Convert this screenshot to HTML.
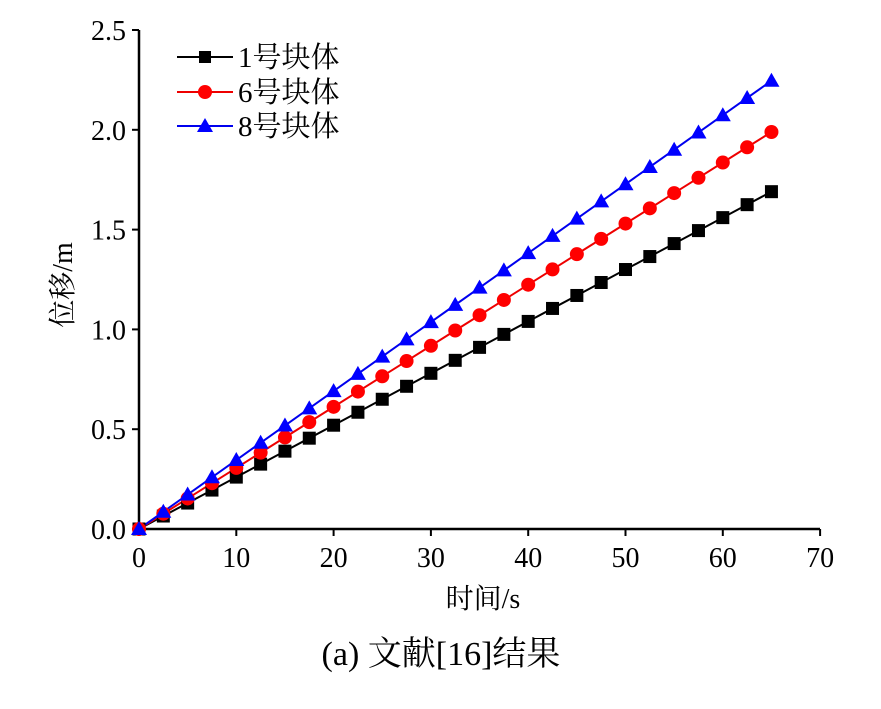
<!DOCTYPE html>
<html><head><meta charset="utf-8"><style>
html,body{margin:0;padding:0;background:#fff;}
svg text{font-family:"Liberation Serif","Noto Serif CJK SC",serif;fill:#000;}
</style></head><body>
<svg id="s" width="881" height="704" xmlns="http://www.w3.org/2000/svg">
<g stroke="#000" stroke-width="2.5" fill="none">
<line x1="139" y1="30" x2="139" y2="529"/>
<line x1="139" y1="529" x2="820" y2="529"/>
</g>
<g id="ticks" stroke="#000" stroke-width="2"></g>
<g id="labels" font-size="28"></g>
<g id="series"></g>
<g stroke-width="2">
<line x1="177" y1="57" x2="233" y2="57" stroke="#000"/><rect x="199" y="51" width="12" height="12" fill="#000"/>
<line x1="177" y1="92" x2="233" y2="92" stroke="#e00"/><circle cx="205" cy="92" r="7" fill="#f00"/>
<line x1="177" y1="126" x2="233" y2="126" stroke="#00e"/><polygon points="205,118 213,132 197,132" fill="#00f"/>
</g>
<text x="238" y="67" font-size="29">1号块体</text>
<text x="238" y="102" font-size="29">6号块体</text>
<text x="238" y="136" font-size="29">8号块体</text>
<text x="483" y="608" font-size="28" text-anchor="middle">时间/s</text>
<text transform="translate(72,285) rotate(-90)" font-size="28" text-anchor="middle">位移/m</text>
<text x="441" y="665" font-size="34" text-anchor="middle">(a)  文献[16]结果</text>
</svg>
<script>
var NS="http://www.w3.org/2000/svg";
function X(t){return 139+9.73*t}function Y(v){return 529-199.6*v}
function el(p,n,a,txt){var e=document.createElementNS(NS,n);for(var k in a)e.setAttribute(k,a[k]);if(txt!=null)e.textContent=txt;document.getElementById(p).appendChild(e);return e;}
for(var t=0;t<=70;t+=10){var x=X(t);el("ticks","line",{x1:x,y1:529,x2:x,y2:536});el("labels","text",{x:x,y:567,"text-anchor":"middle"},String(t));}
for(var v=0;v<=2.5001;v+=0.5){var y=Y(v);el("ticks","line",{x1:132,y1:y,x2:139,y2:y});el("labels","text",{x:126,y:y+10,"text-anchor":"end"},v.toFixed(1));}
var S=[[0.026,"#000","sq"],[0.0306,"#e00","ci"],[0.03455,"#00e","tr"]];
S.forEach(function(s){var pts=[];for(var i=0;i<=26;i++){var t=i*2.5;pts.push(X(t)+","+Y(s[0]*t));}
el("series","polyline",{points:pts.join(" "),fill:"none",stroke:s[1],"stroke-width":2});});
S.forEach(function(s){for(var i=0;i<=26;i++){var t=i*2.5,x=X(t),y=Y(s[0]*t);
if(s[2]=="sq")el("series","rect",{x:x-6.5,y:y-6.5,width:13,height:13,fill:"#000"});
else if(s[2]=="ci")el("series","circle",{cx:x,cy:y,r:7,fill:"#f00"});
else el("series","polygon",{points:x+","+(y-8)+" "+(x+8)+","+(y+6)+" "+(x-8)+","+(y+6),fill:"#00f"});}});
</script>
</body></html>
